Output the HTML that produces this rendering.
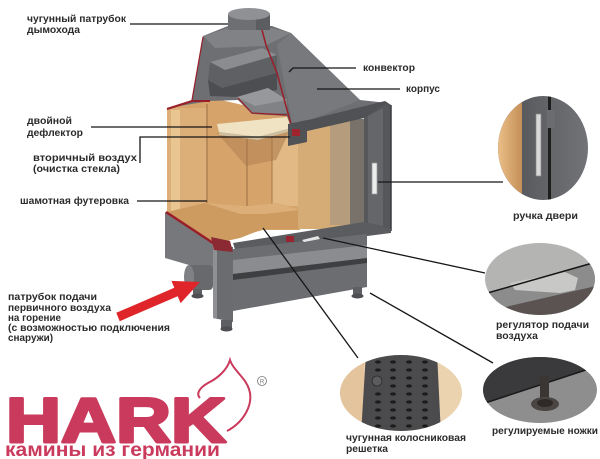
<!DOCTYPE html>
<html><head><meta charset="utf-8"><style>
html,body{margin:0;padding:0;background:#fff;}
svg{display:block;}
.t{font-family:"Liberation Sans","DejaVu Sans",sans-serif;font-weight:bold;font-size:10px;fill:#2b2b2b;}
</style></head><body>
<svg width="600" height="459" viewBox="0 0 600 459" xmlns="http://www.w3.org/2000/svg">
<defs>
<clipPath id="c1"><ellipse cx="543" cy="148" rx="45" ry="52"/></clipPath>
<clipPath id="c2"><ellipse cx="540" cy="279" rx="55" ry="36"/></clipPath>
<clipPath id="c3"><ellipse cx="540" cy="390" rx="57" ry="33"/></clipPath>
<clipPath id="c4"><ellipse cx="401" cy="393" rx="61" ry="38"/></clipPath>
<linearGradient id="tan" x1="0" x2="1" y1="0" y2="0">
<stop offset="0" stop-color="#f0c58e"/><stop offset="1" stop-color="#c58f58"/></linearGradient>
<linearGradient id="gr" x1="0" x2="1" y1="0" y2="0">
<stop offset="0" stop-color="#4e5053"/><stop offset="1" stop-color="#74767a"/></linearGradient>
</defs>
<rect width="600" height="459" fill="#fff"/>

<!-- chamotte lining -->
<polygon points="167,108 212,98 300,118 300,230 263,230 233,238 213,244 167,212" fill="#d6a46a"/>
<rect x="167" y="108" width="40" height="104" fill="#dcae78"/>
<rect x="171" y="110" width="9" height="102" fill="#e9c592"/>
<rect x="272" y="118" width="28" height="88" fill="#e2b984"/>
<polygon points="217,133 290,130 276,160 246,166" fill="#b98a5a" opacity="0.75"/>
<line x1="207" y1="104" x2="207" y2="208" stroke="#a47648" stroke-width="1.2"/>
<line x1="247" y1="136" x2="247" y2="206" stroke="#a47648" stroke-width="1.2"/>
<line x1="272" y1="130" x2="272" y2="204" stroke="#a47648" stroke-width="1"/>
<polygon points="167,212 205,203 247,206 277,203 300,210 300,229 263,229 240,238 213,244" fill="#cd9a60"/>
<polygon points="205,203 247,206 277,203 300,210 265,214 240,214" fill="#dcae78"/>
<!-- deflector -->
<polygon points="217,124 287,117 291,128 258,137 219,132" fill="#efe3c4"/>
<polygon points="219,132 258,137 291,128 291,131 258,140 219,135" fill="#cdbf9f"/>

<!-- glass area -->
<rect x="298" y="119" width="66" height="110" fill="#d5ab76"/>
<rect x="330" y="119" width="20" height="106" fill="#b59c7c"/>
<rect x="350" y="119" width="14" height="105" fill="#78726b"/>

<!-- hood -->
<polygon points="167,108 192,100 203,36 228,26 272,26 291,33 360,100 388,103 388,110 305,130 292,130 287,116 252,114 238,100 210,101" fill="#6d6f72"/>
<polygon points="203,36 228,28 272,28 291,33 265,46 215,48" fill="#808285"/>
<polygon points="277,45 291,33 360,100 300,124 292,122" fill="#77797c"/>
<polygon points="208,80 277,73 277,90 238,97 210,96" fill="#4c4e51"/>
<polygon points="210,62 262,48 277,55 277,73 222,88 208,80" fill="#5e6063"/>
<polygon points="210,62 262,48 277,55 225,70" fill="#8a8c8f"/>
<polygon points="237,97 268,88 287,100 287,113 252,114" fill="#808285"/>
<polygon points="237,97 268,88 287,100 255,106" fill="#96989b"/>
<!-- chimney pipe -->
<rect x="228" y="14" width="42" height="16" fill="#6d6f72"/>
<rect x="256" y="14" width="14" height="16" fill="#5b5d60"/>
<ellipse cx="249" cy="14" rx="21" ry="6" fill="#8f9194"/>
<!-- red cut edges -->
<polyline points="167,109 192,101 210,101" fill="none" stroke="#9a1e2a" stroke-width="2"/>
<polyline points="203,37 192,100" fill="none" stroke="#9a1e2a" stroke-width="1.2"/>
<polyline points="262,30 266,45 277,73 292,128" fill="none" stroke="#9a1e2a" stroke-width="1.5"/>
<polyline points="238,98 252,113 287,115" fill="none" stroke="#9a1e2a" stroke-width="1.2"/>
<!-- secondary air box -->
<polygon points="288,124 307,120 307,142 288,146" fill="#505255"/>
<rect x="292" y="129" width="8" height="7" fill="#a0232e"/>

<!-- door frame -->
<polygon points="292,124 385,101 391,105 391,112 303,132" fill="#4f5154"/>
<polygon points="364,118 385,104 391,106 391,231 364,225" fill="#55575a"/>
<polygon points="368,116 383,108 383,226 368,223" fill="#64666a"/>
<line x1="391" y1="105" x2="391" y2="231" stroke="#3a3c3e" stroke-width="1.5"/>
<polygon points="233,243 364,222 391,229 391,233 236,253" fill="#5a5c5f"/>
<rect x="372" y="163" width="5" height="31" fill="#ececec" stroke="#9a9a9a" stroke-width="0.7"/>

<!-- base -->
<polygon points="165,212 213,243 213,272 165,258" fill="#76787b"/>
<polyline points="166,212 213,243" stroke="#9a1e2a" stroke-width="2.5" fill="none"/>
<polygon points="233,249 367,234 367,287 233,311" fill="#6b6d70"/>
<polygon points="233,260 367,245 367,258 233,274" fill="#8a8c8f"/>
<polygon points="233,274 367,258 367,263 233,280" fill="#3d3f41"/>
<polygon points="213,243 233,247 233,322 213,318" fill="#6a6c6f"/>
<polygon points="213,243 217,244 217,319 213,318" fill="#8e9093"/>
<polygon points="211,237 230,241 233,252 214,250" fill="#8c2a33"/>
<rect x="286" y="236" width="8" height="6" fill="#9a2530"/>
<polygon points="302,240 318,236 320,239 304,242" fill="#e6e6e6"/>
<!-- air inlet cylinder -->
<rect x="186" y="265" width="27" height="25" rx="4" fill="#67696c"/>
<ellipse cx="189" cy="277" rx="5" ry="12" fill="#7f8184"/>
<!-- legs -->
<rect x="221" y="320" width="11" height="8" fill="#5d5f62"/>
<ellipse cx="226.5" cy="329" rx="6" ry="2.5" fill="#4d4f52"/>
<rect x="353" y="287" width="9" height="8" fill="#5d5f62"/>
<ellipse cx="357.5" cy="296" rx="6" ry="2.5" fill="#4d4f52"/>
<rect x="193" y="289" width="9" height="6" fill="#5d5f62"/>
<ellipse cx="197.5" cy="296" rx="6" ry="2.5" fill="#4d4f52"/>

<!-- red arrow -->
<polygon points="116.3,312.8 174.3,287.8 171.4,280.9 200,282 180.6,303.1 177.7,296.2 119.7,321.2" fill="#e0252a"/>

<!-- inset: door handle -->
<g clip-path="url(#c1)">
<rect x="495" y="94" width="100" height="110" fill="url(#gr)"/>
<rect x="495" y="94" width="27" height="110" fill="url(#tan)"/>
<rect x="548" y="94" width="3" height="110" fill="#1e1e1e"/>
<rect x="536" y="114" width="5" height="62" fill="#d8d8d8" stroke="#8a8a8a" stroke-width="0.7"/>
<rect x="547" y="110" width="8" height="18" fill="#6a6c6f"/>
</g>
<!-- inset: regulator -->
<g clip-path="url(#c2)">
<rect x="484" y="242" width="112" height="74" fill="#b4b4b2"/>
<polygon points="484,294 596,262 596,316 484,316" fill="#8c8c8c"/>
<polygon points="484,312 596,286 596,316 484,316" fill="#5a5351"/>
<polygon points="510,283 565,272 578,278 575,290 560,293 515,290" fill="#c8c8c6"/>
<line x1="484" y1="294" x2="596" y2="262" stroke="#151515" stroke-width="1.5"/>
</g>
<!-- inset: legs -->
<g clip-path="url(#c3)">
<rect x="482" y="356" width="116" height="68" fill="#8e8e8e"/>
<polygon points="482,356 598,356 598,366 482,404" fill="#3a3a3c"/>
<line x1="482" y1="404" x2="598" y2="366" stroke="#1a1a1a" stroke-width="1.5"/>
<rect x="540" y="376" width="9" height="24" fill="#3b3634"/>
<ellipse cx="545" cy="404" rx="14" ry="7" fill="#4a4543"/>
<ellipse cx="545" cy="403" rx="8" ry="4" fill="#2e2a28"/>
</g>
<!-- inset: grate -->
<g clip-path="url(#c4)">
<rect x="339" y="354" width="124" height="78" fill="#ebd3b0"/>
<rect x="339" y="354" width="25" height="78" fill="#e3c49c"/>
<polygon points="366,352 437,352 441,435 361,435" fill="#4b4b4d"/>
<g fill="#1c1c1c">
<ellipse cx="378" cy="362" rx="3" ry="1.6"/><ellipse cx="393" cy="362" rx="3" ry="1.6"/><ellipse cx="409" cy="362" rx="3" ry="1.6"/><ellipse cx="425" cy="362" rx="3" ry="1.6"/>
<ellipse cx="378" cy="370" rx="3" ry="1.6"/><ellipse cx="393" cy="370" rx="3" ry="1.6"/><ellipse cx="409" cy="370" rx="3" ry="1.6"/><ellipse cx="425" cy="370" rx="3" ry="1.6"/>
<ellipse cx="393" cy="378" rx="3" ry="1.6"/><ellipse cx="409" cy="378" rx="3" ry="1.6"/><ellipse cx="425" cy="378" rx="3" ry="1.6"/>
<ellipse cx="393" cy="386" rx="3" ry="1.6"/><ellipse cx="409" cy="386" rx="3" ry="1.6"/><ellipse cx="425" cy="386" rx="3" ry="1.6"/>
<ellipse cx="378" cy="394" rx="3" ry="1.6"/><ellipse cx="393" cy="394" rx="3" ry="1.6"/><ellipse cx="409" cy="394" rx="3" ry="1.6"/><ellipse cx="425" cy="394" rx="3" ry="1.6"/>
<ellipse cx="378" cy="402" rx="3" ry="1.6"/><ellipse cx="393" cy="402" rx="3" ry="1.6"/><ellipse cx="409" cy="402" rx="3" ry="1.6"/><ellipse cx="425" cy="402" rx="3" ry="1.6"/>
<ellipse cx="378" cy="410" rx="3" ry="1.6"/><ellipse cx="393" cy="410" rx="3" ry="1.6"/><ellipse cx="409" cy="410" rx="3" ry="1.6"/><ellipse cx="425" cy="410" rx="3" ry="1.6"/>
<ellipse cx="378" cy="418" rx="3" ry="1.6"/><ellipse cx="393" cy="418" rx="3" ry="1.6"/><ellipse cx="409" cy="418" rx="3" ry="1.6"/><ellipse cx="425" cy="418" rx="3" ry="1.6"/>
<ellipse cx="378" cy="426" rx="3" ry="1.6"/><ellipse cx="393" cy="426" rx="3" ry="1.6"/><ellipse cx="409" cy="426" rx="3" ry="1.6"/><ellipse cx="425" cy="426" rx="3" ry="1.6"/>
</g>
<circle cx="377" cy="381" r="5" fill="#5c5c5e" stroke="#2a2a2a" stroke-width="0.8"/>
</g>

<!-- leader lines -->
<g stroke="#161616" stroke-width="1.3" fill="none">
<line x1="130" y1="24" x2="228" y2="24"/>
<polyline points="289,72 293,68 356,68"/>
<line x1="317" y1="89" x2="400" y2="89"/>
<line x1="91" y1="127" x2="212" y2="127"/>
<polyline points="140,163 140,137 290,137"/>
<line x1="137" y1="201" x2="207" y2="201"/>
<line x1="378" y1="182" x2="503" y2="182"/>
<line x1="323" y1="238" x2="485" y2="273"/>
<line x1="263" y1="228" x2="358" y2="358"/>
<line x1="370" y1="293" x2="493" y2="363"/>
</g>

<!-- labels -->
<text class="t" x="27" y="22" textLength="99" lengthAdjust="spacingAndGlyphs">чугунный патрубок</text>
<text class="t" x="27" y="33" textLength="53" lengthAdjust="spacingAndGlyphs">дымохода</text>
<text class="t" x="27" y="124" textLength="45" lengthAdjust="spacingAndGlyphs">двойной</text>
<text class="t" x="27" y="136" textLength="56" lengthAdjust="spacingAndGlyphs">дефлектор</text>
<text class="t" x="33" y="161" textLength="104" lengthAdjust="spacingAndGlyphs">вторичный воздух</text>
<text class="t" x="33" y="172" textLength="87" lengthAdjust="spacingAndGlyphs">(очистка стекла)</text>
<text class="t" x="20" y="204" textLength="109" lengthAdjust="spacingAndGlyphs">шамотная футеровка</text>
<text class="t" x="363" y="71" textLength="52" lengthAdjust="spacingAndGlyphs">конвектор</text>
<text class="t" x="406" y="92" textLength="34" lengthAdjust="spacingAndGlyphs">корпус</text>
<text class="t" x="513" y="219" textLength="65" lengthAdjust="spacingAndGlyphs">ручка двери</text>
<text class="t" x="496" y="328" textLength="93" lengthAdjust="spacingAndGlyphs">регулятор подачи</text>
<text class="t" x="496" y="339" textLength="42" lengthAdjust="spacingAndGlyphs">воздуха</text>
<text class="t" x="492" y="434" textLength="106" lengthAdjust="spacingAndGlyphs">регулируемые ножки</text>
<text class="t" x="346" y="441" textLength="120" lengthAdjust="spacingAndGlyphs">чугунная колосниковая</text>
<text class="t" x="346" y="452" textLength="42" lengthAdjust="spacingAndGlyphs">решетка</text>
<text class="t" x="8" y="300" textLength="89" lengthAdjust="spacingAndGlyphs">патрубок подачи</text>
<text class="t" x="8" y="311" textLength="103" lengthAdjust="spacingAndGlyphs">первичного воздуха</text>
<text class="t" x="8" y="321" textLength="53" lengthAdjust="spacingAndGlyphs">на горение</text>
<text class="t" x="8" y="331" textLength="162" lengthAdjust="spacingAndGlyphs">(с возможностью подключения</text>
<text class="t" x="8" y="341" textLength="45" lengthAdjust="spacingAndGlyphs">снаружи)</text>

<!-- HARK logo -->
<path d="M227,431 C244,422 254,404 249,389 C245,377 233,370 230,360 C227,370 218,378 208,383 C199,388 196,394 200,398" fill="none" stroke="#c93a5c" stroke-width="2"/>
<text x="6" y="442" textLength="220" lengthAdjust="spacingAndGlyphs" style="font-family:'Liberation Sans',sans-serif;font-weight:bold;font-size:63px;fill:#c93a5c;stroke:#c93a5c;stroke-width:3;stroke-linejoin:round">HARK</text>
<text x="5" y="456" textLength="215" lengthAdjust="spacingAndGlyphs" style="font-family:'Liberation Sans',sans-serif;font-weight:bold;font-size:19px;fill:#c93a5c">камины из германии</text>
<circle cx="262" cy="381" r="4.5" fill="none" stroke="#777" stroke-width="0.8"/>
<text x="262" y="383.5" text-anchor="middle" style="font-family:'Liberation Sans',sans-serif;font-size:6px;fill:#777">R</text>
</svg>
</body></html>
